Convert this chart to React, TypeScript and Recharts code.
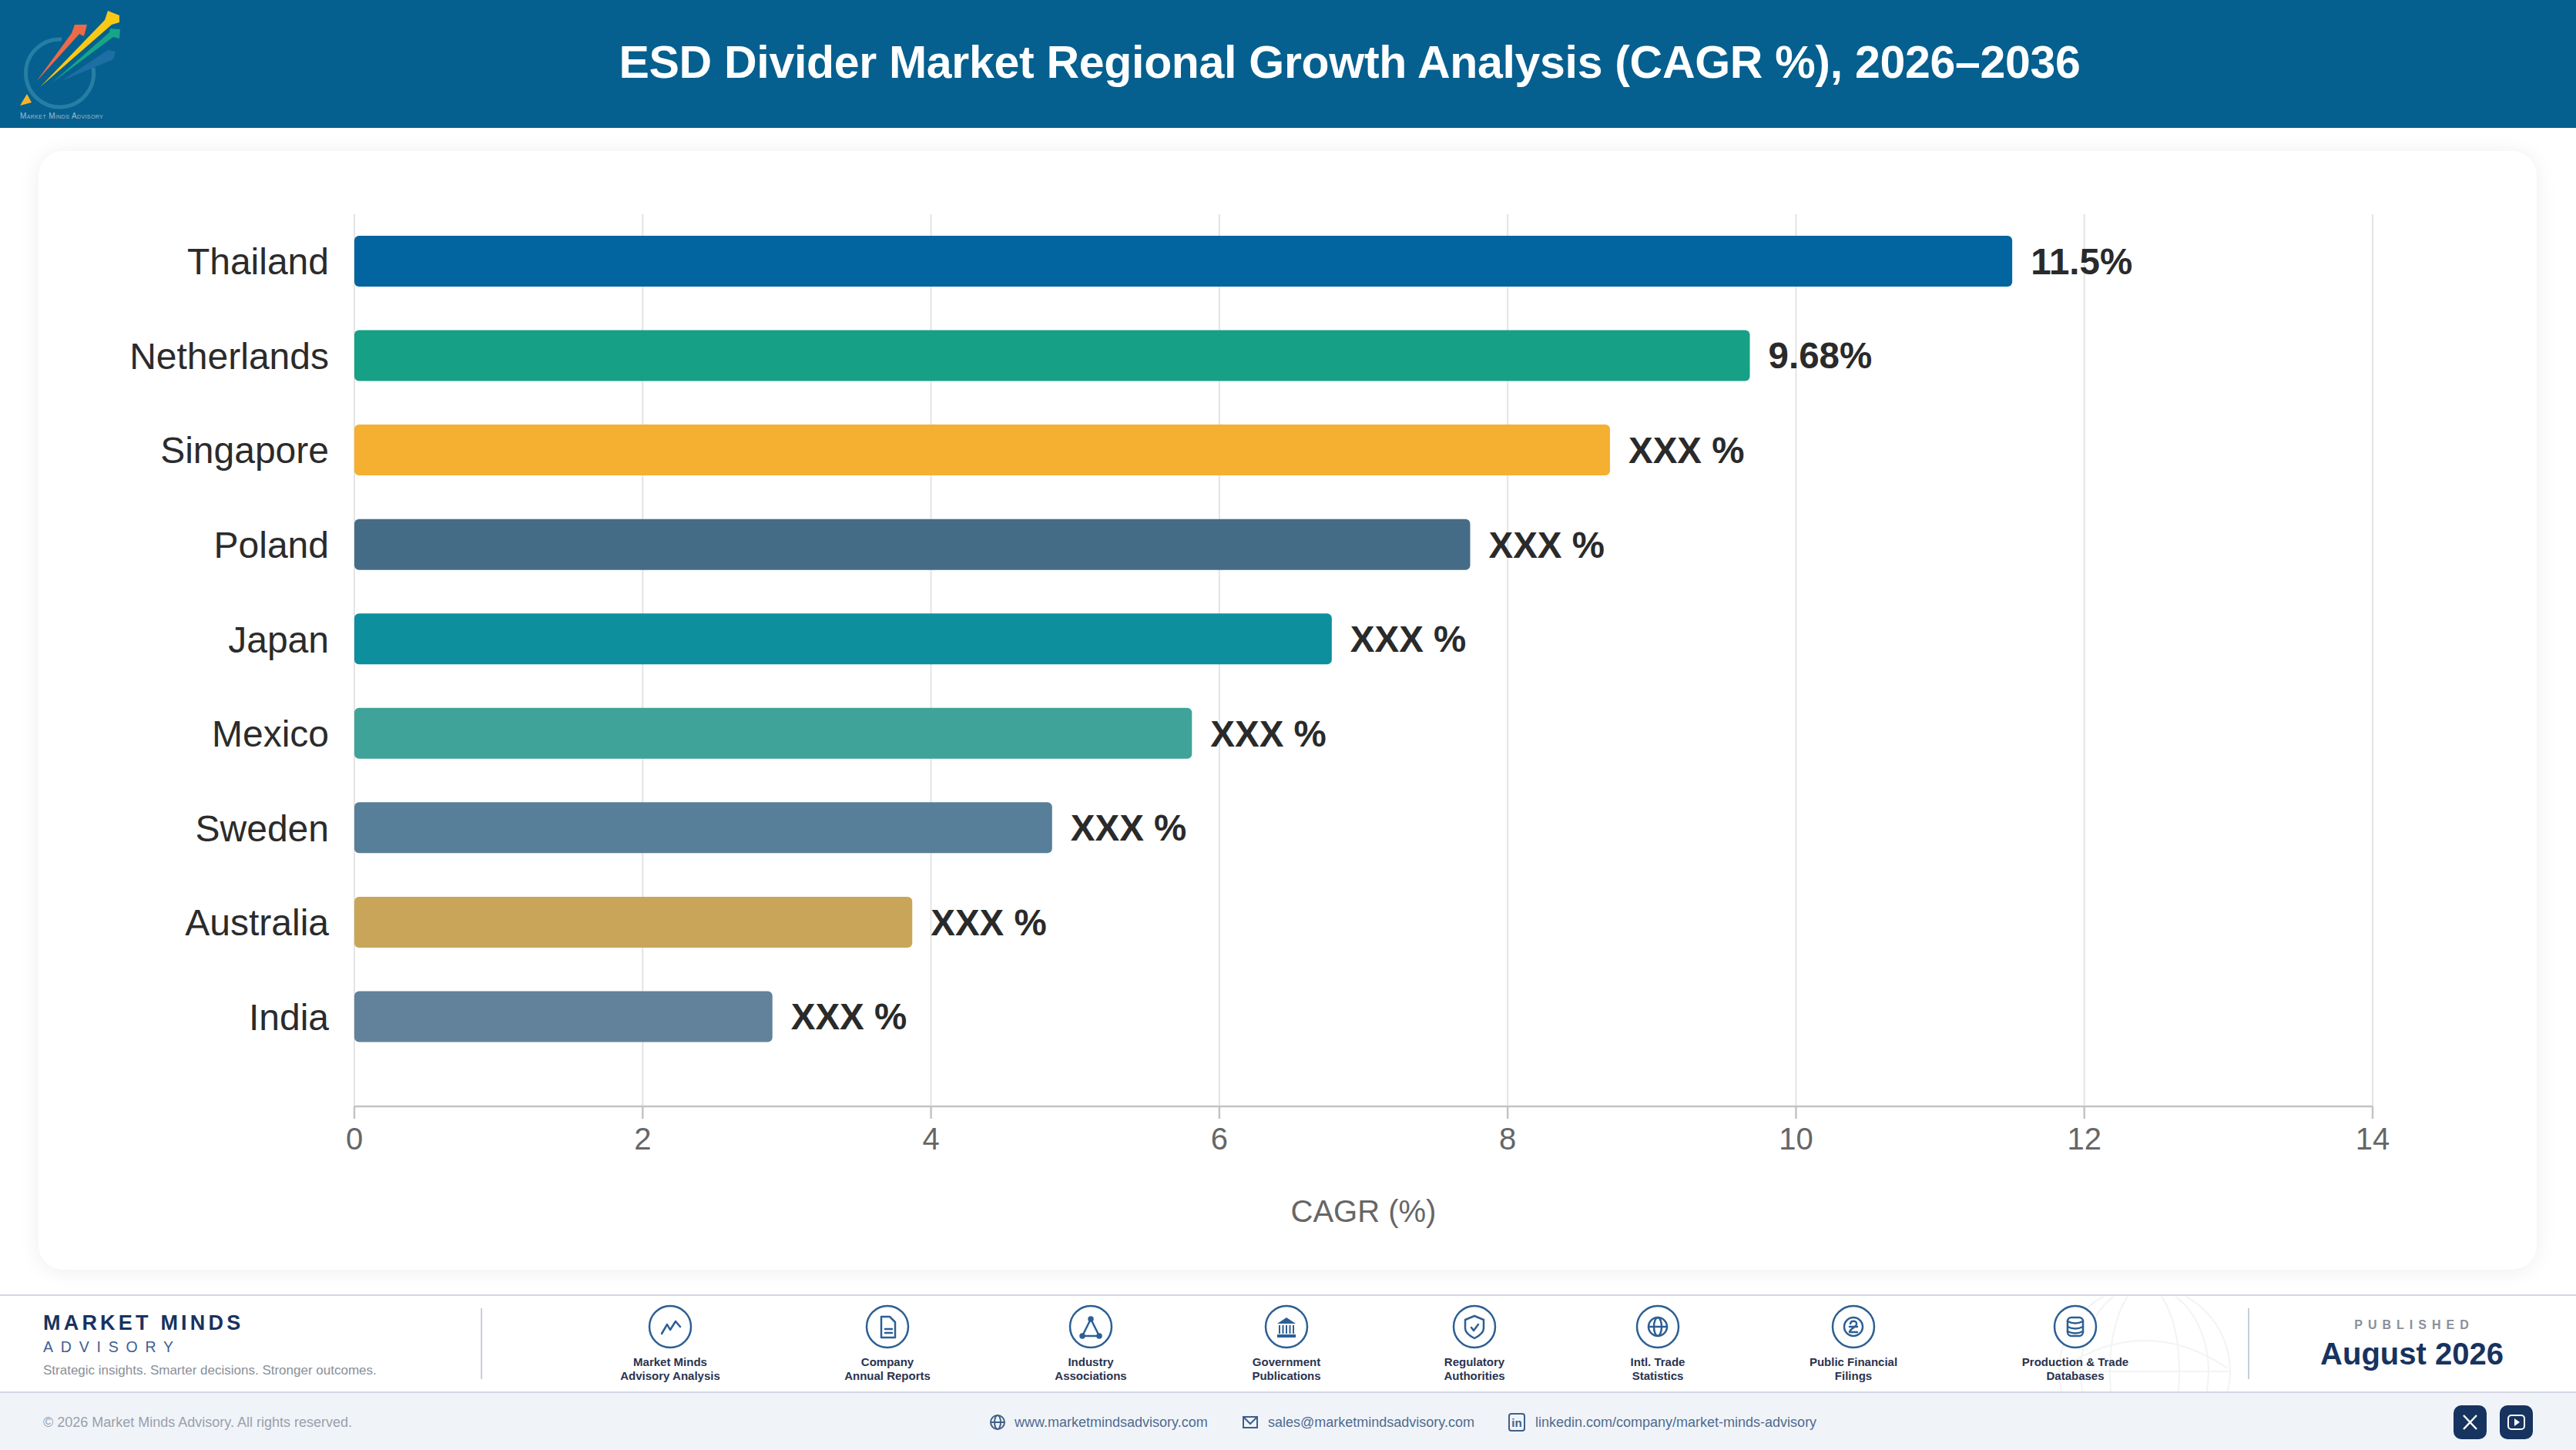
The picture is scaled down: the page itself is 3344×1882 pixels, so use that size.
import React from 'react';
import { BarChart, Bar, Cell, XAxis, YAxis, CartesianGrid, LabelList } from 'recharts';

const regions = ['Thailand', 'Netherlands', 'Singapore', 'Poland', 'Japan', 'Mexico', 'Sweden', 'Australia', 'India'];
const cagr = [11.5, 9.68, 8.71, 7.74, 6.78, 5.81, 4.84, 3.87, 2.9];
const valueLabels = ['11.5%', '9.68%', 'XXX %', 'XXX %', 'XXX %', 'XXX %', 'XXX %', 'XXX %', 'XXX %'];
const barColors = ['#03659F', '#16A085', '#F5B031', '#456C87', '#0E8F9E', '#3FA399', '#577F99', '#C8A558', '#61829A'];
const xTicks = [0, 2, 4, 6, 8, 10, 12, 14];

const sourceNames = [
  ['Market Minds', 'Advisory Analysis'],
  ['Company', 'Annual Reports'],
  ['Industry', 'Associations'],
  ['Government', 'Publications'],
  ['Regulatory', 'Authorities'],
  ['Intl. Trade', 'Statistics'],
  ['Public Financial', 'Filings'],
  ['Production & Trade', 'Databases'],
];
const sourceCenters = [870, 1152, 1416, 1670, 1914, 2152, 2406, 2694];

const rows = regions.map((region, i) => ({ region, value: cagr[i], label: valueLabels[i] }));

const FONT = '"Liberation Sans", Arial, sans-serif';
const NAVY = '#17335F';
const ICON = '#2C5F94';

function Text({ x, y, size, color, bold, spacing, align = 'left', children }: any) {
  const shift = align === 'center' ? '-50%' : '0';
  return (
    <div
      style={{
        position: 'absolute',
        left: x,
        top: y,
        transform: `translate(${shift}, -50%)`,
        fontSize: size,
        lineHeight: 1,
        color,
        fontWeight: bold ? 700 : 400,
        letterSpacing: spacing,
        whiteSpace: 'nowrap',
      }}
    >
      {children}
    </div>
  );
}

function SourceGlyph({ index }: { index: number }) {
  const line = { fill: 'none', stroke: ICON, strokeWidth: 2.5, strokeLinejoin: 'round', strokeLinecap: 'round' } as any;
  switch (index) {
    case 0:
      return <polyline {...line} points="-11,9 -4,-3 0,4 7,-7 13,0" />;
    case 1:
      return (
        <g {...line}>
          <path d="M-8,-13 H3 L10,-6 V14 H-8 Z" />
          <path d="M-3,3 H6 M-3,8 H6" />
        </g>
      );
    case 2:
      return (
        <g {...line}>
          <path d="M0,-10 L-11,12 H11 Z" />
          <circle cx={0} cy={-10} r={2.5} fill={ICON} />
          <circle cx={-11} cy={12} r={2.5} fill={ICON} />
          <circle cx={11} cy={12} r={2.5} fill={ICON} />
        </g>
      );
    case 3:
      return (
        <g fill={ICON}>
          <path d="M0,-12 L12,-4 H-12 Z" />
          <rect x={-12} y={10} width={24} height={4} />
          {[-9, -4.5, 0, 4.5, 9].map((cx) => (
            <rect key={cx} x={cx - 1} y={-2} width={2} height={11} />
          ))}
        </g>
      );
    case 4:
      return (
        <g {...line}>
          <path d="M0,-14 L12,-9 V2 C12,8 6,12 0,15 C-6,12 -12,8 -12,2 V-9 Z" />
          <path d="M-4,1 L-1,5 L5,-3" />
        </g>
      );
    case 5:
      return (
        <g {...line}>
          <circle r={12} />
          <ellipse rx={5} ry={12} />
          <path d="M-12,0 H12" />
        </g>
      );
    case 6:
      return (
        <g {...line}>
          <circle r={12} />
          <path d="M-4,-4 C-3,-9 5,-8 4,-3 C3,1 -5,3 -5,7 H5 M-5,0 H5" />
        </g>
      );
    default:
      return (
        <g {...line}>
          <rect x={-10} y={-12} width={20} height={24} rx={5} />
          <path d="M-10,-7 Q0,-2 10,-7 M-10,0 Q0,5 10,0 M-10,6 Q0,11 10,6" />
        </g>
      );
  }
}

function Logo() {
  return (
    <svg width={170} height={166} style={{ position: 'absolute', left: 0, top: 0 }}>
      <path d="M121,88 A44,44 0 1 1 80,51" fill="none" stroke="#2F86AA" strokeWidth={5} opacity={0.8} />
      <polygon points="26,137 35,122 41,133" fill="#F7B32B" />
      <polygon points="80,105 140,65 150,67 147,77" fill="#1D6EA5" />
      <polygon points="68,107 142,42 143,37 156,38 155,50 147,48" fill="#17A487" />
      <polygon points="52,113 136,26 140,14 155,20 155,29 145,32" fill="#F9C916" />
      <polygon points="47,106 93,43 97,32 113,32 109,47 103,44" fill="#EE6A47" />
      <text x={26} y={154} fontSize={10} fill="#9DBCD2" style={{ fontVariant: 'small-caps' }} letterSpacing={0.4}>
        Market Minds Advisory
      </text>
    </svg>
  );
}

function Globe() {
  return (
    <svg width={260} height={123} style={{ position: 'absolute', left: 2654, top: 1683 }}>
      <g transform="translate(130,97)" fill="none" stroke="#F2F3F5" strokeWidth={2}>
        <circle r={111} />
        <ellipse rx={83} ry={111} />
        <ellipse rx={45} ry={111} />
        <path d="M-111,0 H111 M-108,-4 Q0,-76 108,-4" />
      </g>
    </svg>
  );
}

function ContactIcon({ x, kind }: { x: number; kind: string }) {
  const s = { fill: 'none', stroke: '#3F5F87', strokeWidth: 2 };
  return (
    <svg width={26} height={26} viewBox="-13 -13 26 26" style={{ position: 'absolute', left: x - 13, top: 1833 }}>
      {kind === 'web' && (
        <g {...s}>
          <circle r={9} />
          <ellipse rx={4} ry={9} />
          <path d="M-9,0 H9" />
        </g>
      )}
      {kind === 'mail' && (
        <g {...s}>
          <rect x={-9} y={-7} width={18} height={14} />
          <path d="M-9,-7 L0,2 L9,-7" />
        </g>
      )}
      {kind === 'in' && (
        <g>
          <rect x={-10} y={-11} width={20} height={22} rx={3} {...s} />
          <text x={0} y={6} fontSize={15} fontWeight={700} textAnchor="middle" fill="#3F5F87">in</text>
        </g>
      )}
    </svg>
  );
}

export default function App() {
  return (
    <div style={{ position: 'absolute', left: 0, top: 0, width: 3344, height: 1882, background: '#fff', fontFamily: FONT, overflow: 'hidden' }}>
      <div style={{ position: 'absolute', left: 0, top: 0, width: 3344, height: 166, background: '#05608F' }} />
      <Logo />
      <Text x={1752} y={81} size={59} color="#fff" bold spacing={-0.3} align="center">
        ESD Divider Market Regional Growth Analysis (CAGR %), 2026–2036
      </Text>

      <div
        style={{
          position: 'absolute',
          left: 50,
          top: 196,
          width: 3243,
          height: 1452,
          background: '#fff',
          borderRadius: 32,
          boxShadow: '0 2px 28px rgba(0,0,0,0.07)',
        }}
      >
        <BarChart
          width={3243}
          height={1452}
          data={rows}
          layout="vertical"
          margin={{ top: 82, right: 213, bottom: 52, left: 210 }}
          style={{ fontFamily: FONT }}
        >
          <CartesianGrid horizontal={false} stroke="#E4E4E4" strokeWidth={2} />
          <XAxis
            type="number"
            domain={[0, 14]}
            ticks={xTicks}
            height={160}
            stroke="#C4C4C4"
            strokeWidth={2.5}
            tickSize={16}
            tickMargin={12}
            tick={{ fontSize: 40, fill: '#666666' }}
            label={{ value: 'CAGR (%)', position: 'insideBottom', offset: 10, fontSize: 40, fill: '#666666' }}
          />
          <YAxis
            type="category"
            dataKey="region"
            width={200}
            padding={{ top: 0, bottom: 55 }}
            axisLine={false}
            tickLine={false}
            tickMargin={27}
            tick={{ fontSize: 48, fill: '#2B2B2B' }}
            interval={0}
          />
          <Bar dataKey="value" barSize={66} radius={6} isAnimationActive={false}>
            {rows.map((row, i) => (
              <Cell key={row.region} fill={barColors[i]} />
            ))}
            <LabelList dataKey="label" position="right" offset={24} style={{ fontSize: 47.5, fontWeight: 700, fill: '#2A2A2A' }} />
          </Bar>
        </BarChart>
      </div>

      <Globe />
      <div style={{ position: 'absolute', left: 0, top: 1680, width: 3344, height: 2, background: '#D4D6E4' }} />
      <div style={{ position: 'absolute', left: 0, top: 1806, width: 3344, height: 76, background: '#F0F4F9', borderTop: '2px solid #D4D6E4' }} />

      <Text x={56} y={1717} size={27} color={NAVY} bold spacing={4.2}>MARKET MINDS</Text>
      <Text x={56} y={1749} size={19.5} color="#3F6090" spacing={9.8}>ADVISORY</Text>
      <Text x={56} y={1778} size={17} color="#8A8F99">Strategic insights. Smarter decisions. Stronger outcomes.</Text>
      <div style={{ position: 'absolute', left: 624, top: 1698, width: 2, height: 92, background: '#C8CED8' }} />

      {sourceNames.map((lines, i) => (
        <React.Fragment key={lines[0]}>
          <svg width={60} height={60} viewBox="-30 -30 60 60" style={{ position: 'absolute', left: sourceCenters[i] - 30, top: 1692 }}>
            <circle r={27} fill="#fff" stroke={ICON} strokeWidth={2.5} />
            <SourceGlyph index={i} />
          </svg>
          <Text x={sourceCenters[i]} y={1767} size={15} color="#2A3350" bold align="center">{lines[0]}</Text>
          <Text x={sourceCenters[i]} y={1785} size={15} color="#2A3350" bold align="center">{lines[1]}</Text>
        </React.Fragment>
      ))}

      <div style={{ position: 'absolute', left: 2918, top: 1698, width: 2, height: 92, background: '#C8CED8' }} />
      <Text x={3134} y={1720} size={16} color="#8A8F99" bold spacing={7} align="center">PUBLISHED</Text>
      <Text x={3131} y={1757} size={40} color={NAVY} bold align="center">August 2026</Text>

      <Text x={56} y={1846} size={18} color="#9AA0AA">© 2026 Market Minds Advisory. All rights reserved.</Text>
      <ContactIcon x={1295} kind="web" />
      <Text x={1317} y={1846} size={18} color="#4F6B8F">www.marketmindsadvisory.com</Text>
      <ContactIcon x={1623} kind="mail" />
      <Text x={1646} y={1846} size={18} color="#4F6B8F">sales@marketmindsadvisory.com</Text>
      <ContactIcon x={1969} kind="in" />
      <Text x={1993} y={1846} size={18} color="#4F6B8F">linkedin.com/company/market-minds-advisory</Text>

      <svg width={104} height={44} style={{ position: 'absolute', left: 3185, top: 1824 }}>
        <rect width={43} height={44} rx={10} fill={NAVY} />
        <path d="M13,13 L30,31 M30,13 L13,31" stroke="#fff" strokeWidth={2.5} />
        <rect x={60} width={43} height={44} rx={10} fill={NAVY} />
        <rect x={71} y={13} width={21} height={18} rx={4} fill="none" stroke="#fff" strokeWidth={2} />
        <path d="M79,17 L86,22 L79,27 Z" fill="#fff" />
      </svg>
    </div>
  );
}
